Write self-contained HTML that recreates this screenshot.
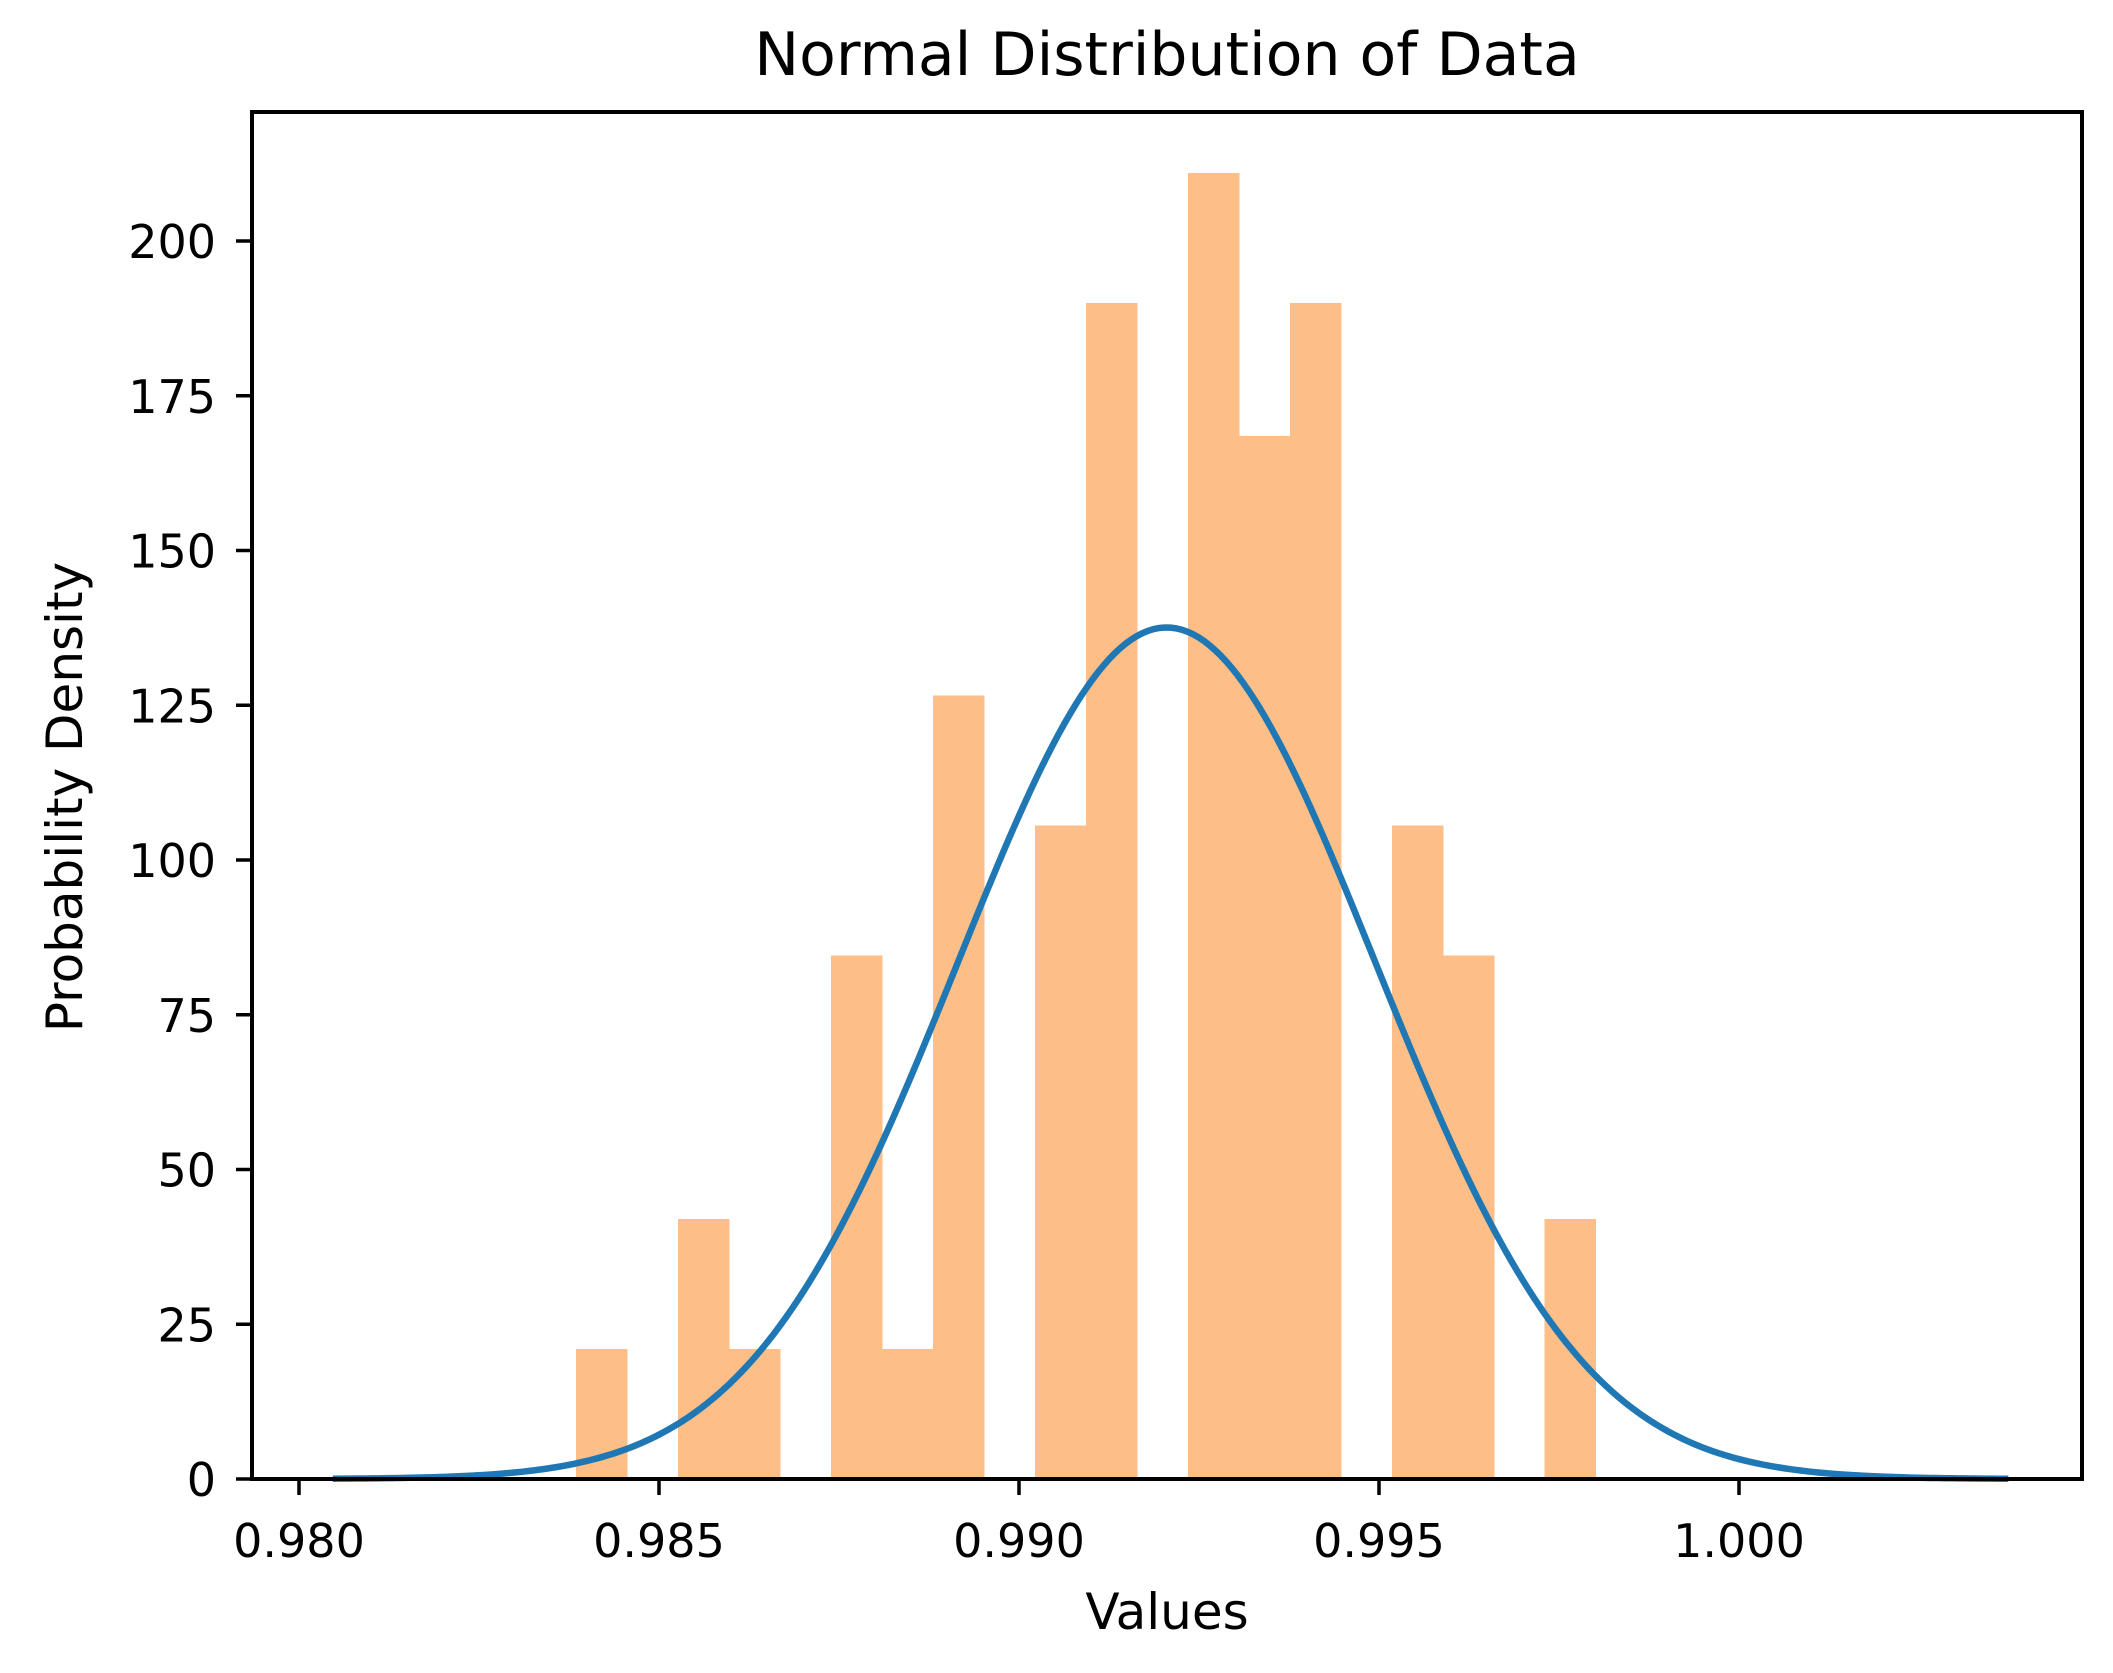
<!DOCTYPE html>
<html><head><meta charset="utf-8"><style>
html,body{margin:0;padding:0;background:#fff;}
svg text{font-family:"DejaVu Sans","Liberation Sans",sans-serif;fill:#000;}
</style></head><body>
<svg id="chart" width="2113" height="1668" xmlns="http://www.w3.org/2000/svg">
<rect width="2113" height="1668" fill="#fff"/>
<g id="bars" shape-rendering="crispEdges"></g>
<path id="curve" fill="none" stroke="#1f77b4" stroke-width="6.5"/>
<rect x="252" y="112" width="1830" height="1367" fill="none" stroke="#000" stroke-width="4"/>
<g id="xticks"></g>
<g id="yticks"></g>
<text x="1167" y="75" font-size="60" text-anchor="middle">Normal Distribution of Data</text>
<text x="1167" y="1629" font-size="50" text-anchor="middle">Values</text>
<text transform="translate(82,797) rotate(-90)" font-size="50" text-anchor="middle">Probability Density</text>
</svg>
<script>
const binStart = 0.98385;
const binWidth = 0.000708;
const binHeights = [21,0,42,21,0,84.6,21,126.6,0,105.6,190,0,211,168.5,190,0,105.6,84.6,0,42];
const fitMean = 0.99205;
const fitSigma = 0.0029;
const curveRange = [0.98047, 1.00374];
const xTicks = [0.980,0.985,0.990,0.995,1.000];
const xTickLabels = ["0.980","0.985","0.990","0.995","1.000"];
const yTicks = [0,25,50,75,100,125,150,175,200];
const yTickLabels = ["0","25","50","75","100","125","150","175","200"];

const NS="http://www.w3.org/2000/svg";
function X(v){return 299+(v-0.980)*72000;}
function Y(v){return 1479-v*6.19;}
const bars=document.getElementById('bars');
binHeights.forEach((h,i)=>{
  if(h<=0) return;
  const r=document.createElementNS(NS,'rect');
  const x0=X(binStart+i*binWidth), x1=X(binStart+(i+1)*binWidth);
  r.setAttribute('x',x0);r.setAttribute('width',x1-x0+0.5);
  r.setAttribute('y',Y(h));r.setAttribute('height',Y(0)-Y(h));
  r.setAttribute('fill','#fdbf87');
  
  
  bars.appendChild(r);
});
let d='';
for(let k=0;k<=300;k++){
  const v=curveRange[0]+(curveRange[1]-curveRange[0])*k/300;
  const p=Math.exp(-0.5*Math.pow((v-fitMean)/fitSigma,2))/(fitSigma*Math.sqrt(2*Math.PI));
  d+=(k?'L':'M')+X(v).toFixed(2)+' '+Y(p).toFixed(2);
}
document.getElementById('curve').setAttribute('d',d);
const xg=document.getElementById('xticks');
xTicks.forEach((v,i)=>{
  const l=document.createElementNS(NS,'line');
  l.setAttribute('x1',X(v));l.setAttribute('x2',X(v));l.setAttribute('y1',1479);l.setAttribute('y2',1495);
  l.setAttribute('stroke','#000');l.setAttribute('stroke-width','3.5');
  
  
  xg.appendChild(l);
  const t=document.createElementNS(NS,'text');
  t.setAttribute('x',X(v));t.setAttribute('y',1557);t.setAttribute('font-size','46');t.setAttribute('text-anchor','middle');
  t.textContent=xTickLabels[i];
  
  
  xg.appendChild(t);
});
const yg=document.getElementById('yticks');
yTicks.forEach((v,i)=>{
  const l=document.createElementNS(NS,'line');
  l.setAttribute('x1',236);l.setAttribute('x2',252);l.setAttribute('y1',Y(v));l.setAttribute('y2',Y(v));
  l.setAttribute('stroke','#000');l.setAttribute('stroke-width','3.5');
  
  
  yg.appendChild(l);
  const t=document.createElementNS(NS,'text');
  t.setAttribute('x',216);t.setAttribute('y',Y(v)+17);t.setAttribute('font-size','46');t.setAttribute('text-anchor','end');
  t.textContent=yTickLabels[i];
  
  
  yg.appendChild(t);
});
</script>
</body></html>
